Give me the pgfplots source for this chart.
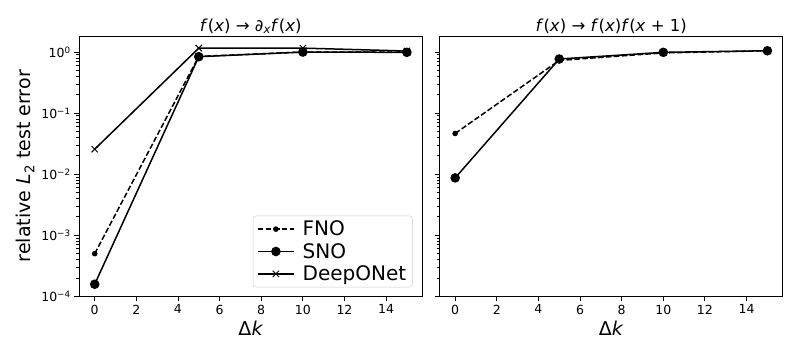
\documentclass[border=0pt]{standalone}
\usepackage{fontspec}
\setmainfont{DejaVu Sans}
\usepackage{pgfplots}
\pgfplotsset{compat=1.18}

\pgfplotsset{
  legend image code/.code={\draw[mark repeat=2,mark phase=2,#1] plot coordinates {(0pt,0pt) (18pt,0pt) (36pt,0pt)};},
  every axis/.append style={
    scale only axis, width=343pt, height=260pt,
    xmin=-0.75, xmax=15.75,
    ymin=1e-4, ymax=1.83,
    xtick={0,2,...,14},
    ytick={1e-4,1e-3,1e-2,1e-1,1},
    minor ytick={2e-4,3e-4,4e-4,5e-4,6e-4,7e-4,8e-4,9e-4,
                 2e-3,3e-3,4e-3,5e-3,6e-3,7e-3,8e-3,9e-3,
                 2e-2,3e-2,4e-2,5e-2,6e-2,7e-2,8e-2,9e-2,
                 2e-1,3e-1,4e-1,5e-1,6e-1,7e-1,8e-1,9e-1},
    tick align=outside, tick pos=left,
    major tick length=4.9pt, minor tick length=2.8pt,
    axis line style={line width=1pt},
    every tick/.style={black, line width=0.9pt},
    tick label style={font=\fontsize{12.5}{14}\selectfont},
    every axis title shift=0pt,
    title style={font=\fontsize{16.5}{19}\selectfont, at={(0.5,1)}, anchor=south, inner sep=2pt},
    label style={font=\fontsize{19}{22}\selectfont},
    xlabel={Δ\textit{k}},
  },
}
\tikzset{
  fno/.style={black, line width=1.5pt, dash pattern=on 5.5pt off 2.4pt, mark=*, mark size=2pt, mark options={solid}},
  sno/.style={black, line width=1.5pt, mark=*, mark size=4pt},
  deep/.style={black, line width=1.5pt, mark=x, mark size=4.5pt, mark options={line width=1pt}},
}

\begin{document}
\begin{tikzpicture}
\begin{semilogyaxis}[name=left, at={(0,0)},
  /pgf/number format/assume math mode=true,
  title={\textit{f}(\textit{x}) → ∂\textsubscript{\textit{x}}\textit{f}(\textit{x})},
  ylabel={relative \textit{L}\textsubscript{2} test error},
  yticklabels={10\textsuperscript{−4},10\textsuperscript{−3},10\textsuperscript{−2},10\textsuperscript{−1},10\textsuperscript{0}},
  legend style={at={(0.971,0.035)}, anchor=south east, draw=black!20, rounded corners=3pt,
    font=\fontsize{20}{23}\selectfont,
    cells={anchor=west}, inner xsep=4pt, inner ysep=3pt, row sep=2pt, column sep=6pt},
]
% FNO
\addplot[fno] coordinates {(0,5.0e-4) (5,0.85) (10,1.0) (15,1.0)};
% SNO
\addplot[sno] coordinates {(0,1.58e-4) (5,0.84) (10,1.0) (15,0.99)};
% DeepONet
\addplot[deep] coordinates {(0,0.0257) (5,1.16) (10,1.16) (15,1.04)};
\legend{FNO, SNO, DeepONet}
\end{semilogyaxis}
\begin{semilogyaxis}[name=right, at={(360pt,0)},
  /pgf/number format/assume math mode=true,
  title={\textit{f}(\textit{x}) → \textit{f}(\textit{x})\textit{f}(\textit{x} + 1)},
  yticklabels={,,,,},
]
\addplot[fno] coordinates {(0,0.0465) (5,0.73) (10,0.97) (15,1.05)};
\addplot[sno] coordinates {(0,0.0087) (5,0.77) (10,0.99) (15,1.05)};
\end{semilogyaxis}
\path (left.south west) ++(-79pt,-58pt) coordinate (bl);
\path (right.north east) ++(14pt,36pt) coordinate (tr);
\path (bl) rectangle (tr);
\end{tikzpicture}
\end{document}
